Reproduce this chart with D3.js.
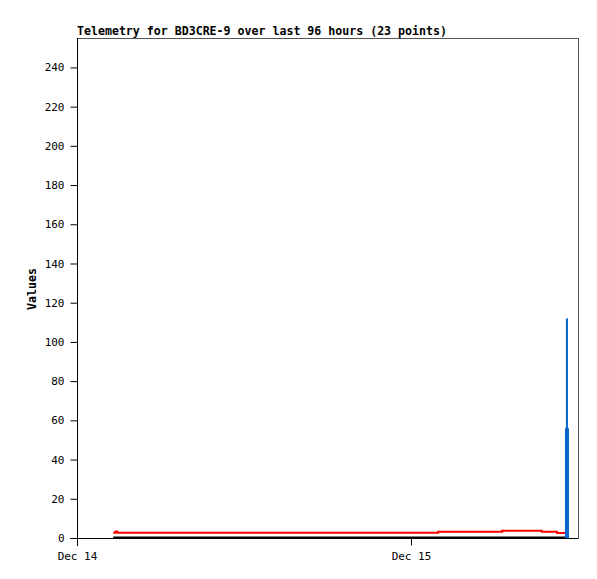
<!DOCTYPE html>
<html>
<head>
<meta charset="utf-8">
<script src="https://cdn.jsdelivr.net/npm/d3@7"></script>
<style>
  body { margin: 0; background: #fff; }
  svg text { font-family: "DejaVu Sans Mono", monospace; }
</style>
</head>
<body>
<svg id="chart" width="597" height="579"></svg>
<script>
// hours after Dec 14 00:00 for each telemetry point (23 points)
const hours = [2.6, 2.75, 2.9, 5.0, 7.5, 10.0, 12.5, 15.0, 17.5, 20.0, 22.5, 24.5, 25.95,
  27.5, 29.0, 30.55, 32.0, 33.4, 34.5, 34.9, 35.1, 35.2, 35.35];
const redValues = [2.7, 3.3, 2.7, 2.7, 2.7, 2.7, 2.7, 2.7, 2.7, 2.7, 2.7, 2.7, 3.2,
  3.2, 3.2, 3.7, 3.7, 3.2, 2.5, 2.5, 2.5, 2.5, 2.5];
const blackValues = [0.3, 0.3, 0.3, 0.3, 0.3, 0.3, 0.3, 0.3, 0.3, 0.3, 0.3, 0.3, 0.3,
  0.3, 0.3, 0.3, 0.3, 0.3, 0.3, 0.3, 0.3, 0.3, 0.3];
// spikes at the end of the period
const spikeHour = [35.17];
const spikeThick = [56];
const spikeThin = [112];
const yTicks = [0, 20, 40, 60, 80, 100, 120, 140, 160, 180, 200, 220, 240];
const xTickLabels = ['Dec 14', 'Dec 15'];
const xTickHours = [0, 24];

const svg = d3.select('#chart');
const margin = { left: 77, top: 38, right: 19, bottom: 41 };
const width = 597 - margin.left - margin.right;
const height = 579 - margin.top - margin.bottom;

const start = new Date(2023, 11, 14, 0, 0);
const toDate = (h) => new Date(start.getTime() + h * 3600e3);

const x = d3.scaleTime().domain([start, toDate(36)]).range([0, width]);
const y = d3.scaleLinear().domain([0, 255]).range([height, 0]);

const g = svg.append('g').attr('transform', `translate(${margin.left},${margin.top})`);

// title
svg.append('text')
  .attr('x', margin.left)
  .attr('y', 35)
  .attr('font-size', 11.6)
  .attr('font-weight', 'bold')
  .text('Telemetry for BD3CRE-9 over last 96 hours (23 points)');

// frame (top and right)
g.append('rect')
  .attr('x', 0.5).attr('y', 0.5)
  .attr('width', width).attr('height', height)
  .attr('fill', 'none').attr('stroke', '#555');

const pts = hours.map((h, i) => ({ t: toDate(h), red: redValues[i], black: blackValues[i] }));

// black series
g.append('path')
  .datum(pts)
  .attr('fill', 'none')
  .attr('stroke', '#000')
  .attr('stroke-width', 2)
  .attr('d', d3.line().curve(d3.curveStepAfter).x((d) => x(d.t)).y((d) => y(d.black)));

// red series
g.append('path')
  .datum(pts)
  .attr('fill', 'none')
  .attr('stroke', '#ff0000')
  .attr('stroke-width', 2)
  .attr('d', d3.line().curve(d3.curveStepAfter).x((d) => x(d.t)).y((d) => y(d.red)));

// blue spikes
g.selectAll('.thin')
  .data(spikeHour)
  .join('line')
  .attr('x1', (d) => x(toDate(d)) + 0.5).attr('x2', (d) => x(toDate(d)) + 0.5)
  .attr('y1', y(0)).attr('y2', (d, i) => y(spikeThin[i]))
  .attr('stroke', '#0066cc').attr('stroke-width', 2);
g.selectAll('.thick')
  .data(spikeHour)
  .join('line')
  .attr('x1', (d) => x(toDate(d)) + 0.5).attr('x2', (d) => x(toDate(d)) + 0.5)
  .attr('y1', y(0)).attr('y2', (d, i) => y(spikeThick[i]))
  .attr('stroke', '#0066cc').attr('stroke-width', 4);

// y axis
const yAxis = d3.axisLeft(y).tickValues(yTicks).tickSize(7).tickPadding(6);
g.append('g')
  .attr('transform', 'translate(0.5,0)')
  .call(yAxis)
  .call((s) => s.select('.domain').attr('d', `M0,0V${height + 8}`).attr('stroke', '#000'))
  .call((s) => s.selectAll('text').attr('font-family', '"DejaVu Sans Mono", monospace').attr('font-size', 11).attr('fill', '#000'));

// x axis
const xAxis = d3.axisBottom(x)
  .tickValues(xTickHours.map(toDate))
  .tickFormat((d, i) => xTickLabels[i])
  .tickSize(7).tickPadding(7);
g.append('g')
  .attr('transform', `translate(0,${height + 0.5})`)
  .call(xAxis)
  .call((s) => s.select('.domain').attr('d', `M-7,0H${width}`).attr('stroke', '#000'))
  .call((s) => s.selectAll('text').attr('font-family', '"DejaVu Sans Mono", monospace').attr('font-size', 11).attr('fill', '#000'));

// y label
svg.append('text')
  .attr('transform', 'translate(36,289) rotate(-90)')
  .attr('text-anchor', 'middle')
  .attr('font-size', 11.6)
  .attr('font-weight', 'bold')
  .text('Values');
</script>
</body>
</html>
